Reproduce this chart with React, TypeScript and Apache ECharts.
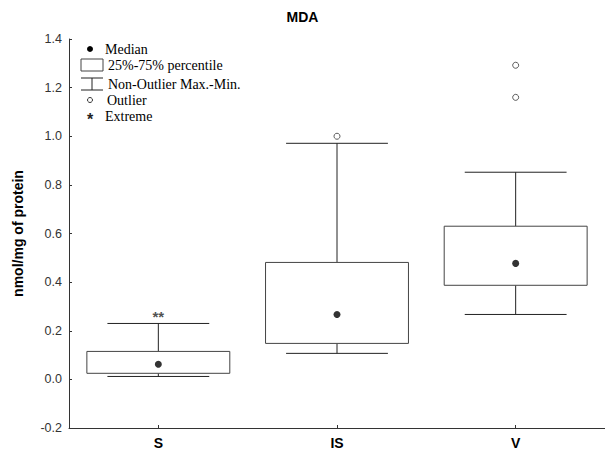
import React, { useEffect, useRef } from "react";
import * as echarts from "echarts";

const categories = ["S", "IS", "V"];
// [min, q1, median, q3, max] (non-outlier range)
const whiskerMin = [0.012, 0.107, 0.267];
const quartile1 = [0.025, 0.148, 0.387];
const medians = [0.062, 0.267, 0.477];
const quartile3 = [0.115, 0.481, 0.63];
const whiskerMax = [0.23, 0.971, 0.852];
const outliers: [number, number][] = [
  [1, 1.0],
  [2, 1.16],
  [2, 1.292],
];
const extremes: [number, number][] = [[0, 0.272]];
const yTicks = { min: -0.2, max: 1.4, interval: 0.2 };

const serif = "Liberation Serif";
const sans = "Liberation Sans";

export default function App() {
  const ref = useRef<HTMLDivElement>(null);
  useEffect(() => {
    document.body.style.margin = "0";
    const chart = echarts.init(ref.current!, undefined, { renderer: "svg" });
    const boxData = categories.map((_, i) => [
      i,
      whiskerMin[i],
      quartile1[i],
      medians[i],
      quartile3[i],
      whiskerMax[i],
    ]);
    const legendX = 81;
    const legendTextStyle = { fontFamily: serif, fontSize: 14, fill: "#000" };
    chart.setOption({
      animation: false,
      backgroundColor: "#fff",
      title: {
        text: "MDA",
        left: "center",
        top: 5,
        textStyle: { fontFamily: sans, fontSize: 14, fontWeight: "bold", color: "#000" },
      },
      grid: { left: 69, right: 0, top: 39, bottom: 22 },
      xAxis: {
        type: "category",
        data: categories,
        axisTick: { show: true, inside: true, alignWithLabel: true, length: 3, lineStyle: { color: "#333" } },
        axisLine: { onZero: false, lineStyle: { color: "#333", width: 1 } },
        axisLabel: {
          fontFamily: sans,
          fontSize: 14,
          fontWeight: "bold",
          color: "#000",
          margin: 8,
        },
      },
      yAxis: {
        type: "value",
        min: yTicks.min,
        max: yTicks.max,
        interval: yTicks.interval,
        name: "nmol/mg of protein",
        nameLocation: "middle",
        nameGap: 44,
        nameTextStyle: { fontFamily: sans, fontSize: 14, fontWeight: "bold", color: "#000" },
        splitLine: { show: false },
        axisLine: { show: true, lineStyle: { color: "#333", width: 1 } },
        axisTick: { show: true, inside: true, length: 3, lineStyle: { color: "#333" } },
        axisLabel: {
          fontFamily: sans,
          fontSize: 12.5,
          color: "#333",
          margin: 7,
          formatter: (v: number) => v.toFixed(1),
        },
      },
      series: [
        {
          type: "custom",
          data: boxData,
          encode: { x: 0, y: [1, 2, 3, 4, 5] },
          renderItem: (params: any, api: any) => {
            const idx = api.value(0);
            const band = api.size([1, 0])[0];
            const boxW = band * 0.8;
            const capW = band * 0.57;
            const pMin = api.coord([idx, api.value(1)]);
            const pQ1 = api.coord([idx, api.value(2)]);
            const pQ3 = api.coord([idx, api.value(4)]);
            const pMax = api.coord([idx, api.value(5)]);
            const cx = pMin[0];
            const lineStyle = { stroke: "#222", lineWidth: 1, fill: null };
            return {
              type: "group",
              children: [
                {
                  type: "line",
                  shape: { x1: cx, y1: pQ3[1], x2: cx, y2: pMax[1] },
                  style: lineStyle,
                },
                {
                  type: "line",
                  shape: { x1: cx, y1: pQ1[1], x2: cx, y2: pMin[1] },
                  style: lineStyle,
                },
                {
                  type: "line",
                  shape: { x1: cx - capW / 2, y1: pMax[1], x2: cx + capW / 2, y2: pMax[1] },
                  style: lineStyle,
                },
                {
                  type: "line",
                  shape: { x1: cx - capW / 2, y1: pMin[1], x2: cx + capW / 2, y2: pMin[1] },
                  style: lineStyle,
                },
                {
                  type: "rect",
                  shape: { x: cx - boxW / 2, y: pQ3[1], width: boxW, height: pQ1[1] - pQ3[1] },
                  style: { stroke: "#444", lineWidth: 1, fill: "#fff" },
                },
              ],
            };
          },
          z: 2,
        },
        {
          type: "scatter",
          data: medians.map((m, i) => [i, m]),
          symbol: "circle",
          symbolSize: 7,
          itemStyle: { color: "#000" },
          z: 5,
        },
        {
          type: "scatter",
          data: outliers,
          symbol: "circle",
          symbolSize: 6,
          itemStyle: { color: "#fff", borderColor: "#333", borderWidth: 1 },
          z: 5,
        },
        {
          type: "scatter",
          data: extremes,
          symbolSize: 0,
          label: {
            show: true,
            position: "inside",
            formatter: "**",
            fontFamily: sans,
            fontSize: 15,
            fontWeight: "bold",
            color: "#222",
            offset: [0, 3],
          },
          z: 5,
        },
      ],
      graphic: [
        { type: "circle", shape: { cx: 90, cy: 49, r: 3 }, style: { fill: "#000" } },
        { type: "text", x: 105, y: 49, style: { ...legendTextStyle, text: "Median", verticalAlign: "middle" } },
        {
          type: "rect",
          shape: { x: legendX, y: 59, width: 22, height: 12 },
          style: { fill: "#fff", stroke: "#444", lineWidth: 1 },
        },
        {
          type: "text",
          x: 108,
          y: 65,
          style: { ...legendTextStyle, text: "25%-75% percentile", verticalAlign: "middle" },
        },
        { type: "line", shape: { x1: legendX, y1: 78, x2: legendX + 22, y2: 78 }, style: { stroke: "#222", lineWidth: 1 } },
        { type: "line", shape: { x1: 92, y1: 78, x2: 92, y2: 90 }, style: { stroke: "#222", lineWidth: 1 } },
        { type: "line", shape: { x1: legendX, y1: 90, x2: legendX + 22, y2: 90 }, style: { stroke: "#222", lineWidth: 1 } },
        {
          type: "text",
          x: 108,
          y: 84,
          style: { ...legendTextStyle, text: "Non-Outlier Max.-Min.", verticalAlign: "middle" },
        },
        { type: "circle", shape: { cx: 90, cy: 100, r: 2.5 }, style: { fill: "#fff", stroke: "#333", lineWidth: 1 } },
        { type: "text", x: 107, y: 100, style: { ...legendTextStyle, text: "Outlier", verticalAlign: "middle" } },
        {
          type: "text",
          x: 90,
          y: 119,
          style: { text: "*", fontFamily: sans, fontSize: 16, fontWeight: "bold", fill: "#222", align: "center", verticalAlign: "middle" },
        },
        { type: "text", x: 105, y: 116, style: { ...legendTextStyle, text: "Extreme", verticalAlign: "middle" } },
      ],
    });
    return () => chart.dispose();
  }, []);
  return <div ref={ref} style={{ width: 605, height: 450 }} />;
}
